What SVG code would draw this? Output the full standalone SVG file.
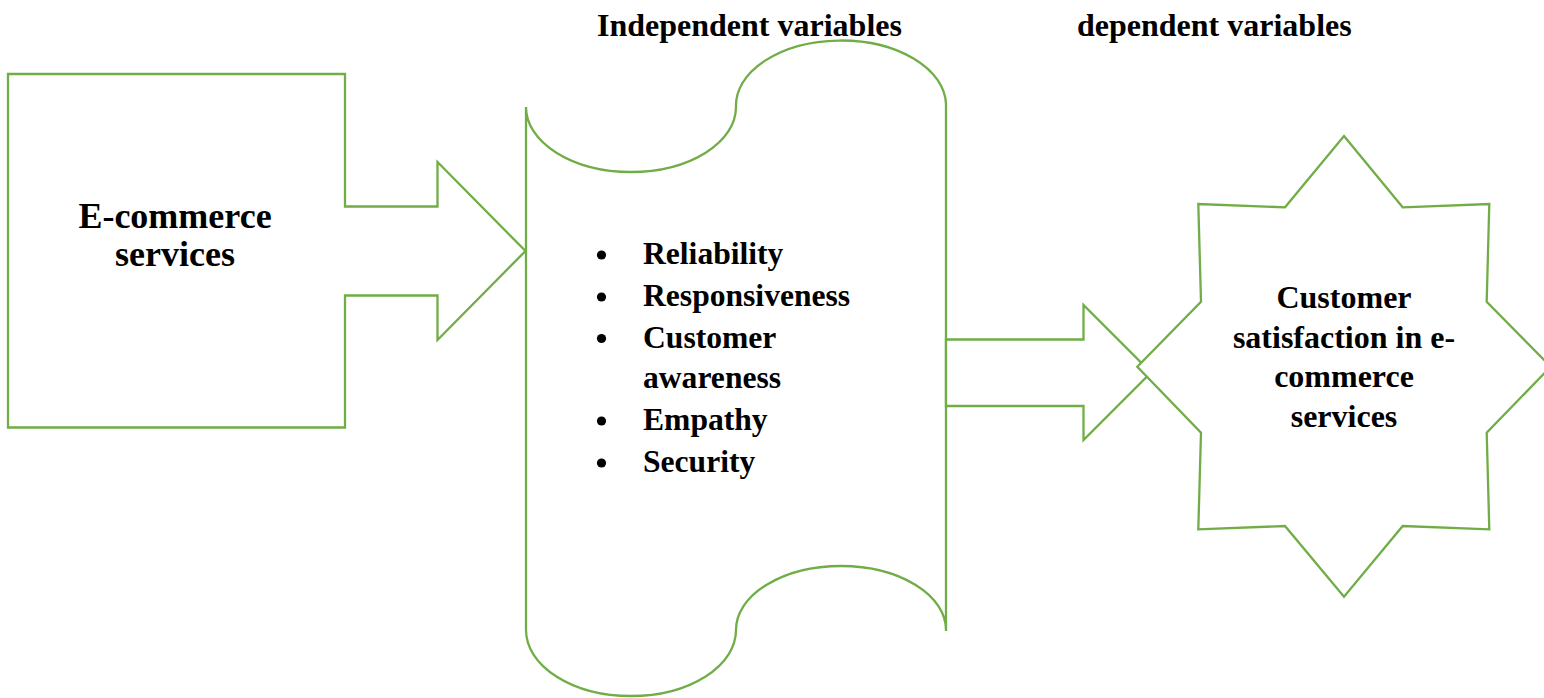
<svg xmlns="http://www.w3.org/2000/svg" width="1544" height="698" viewBox="0 0 1544 698">
<style>
.shape{fill:#ffffff;stroke:#70AD47;stroke-width:2.3;stroke-linejoin:miter}
.t{font-family:"Liberation Serif","Times New Roman",serif;font-weight:bold;fill:#000000}
.h{font-size:32px}
.big{font-size:36px}
.li{font-size:31.6px}
.st{font-size:32px}
</style>
<rect x="0" y="0" width="1544" height="698" fill="#ffffff"/>
<g id="headers">
<text class="t h" x="597" y="36">Independent variables</text>
<text class="t h" x="1077" y="36">dependent variables</text>
</g>
<g id="node-ecommerce">
<polygon class="shape" points="8,74 345,74 345,206.5 437.5,206.5 437.5,162 525.5,251 437.5,340 437.5,295.5 345,295.5 345,427.5 8,427.5"/>
<text class="t big" x="175" y="228" text-anchor="middle">E-commerce</text>
<text class="t big" x="175" y="266" text-anchor="middle">services</text>
</g>
<g id="node-independent">
<path class="shape" d="M526,107 A105,65 0 0 0 736,107 A105,65 0 0 1 946,104 L946,631 L946,630 A105,64 0 0 0 736,630 A105,66 0 0 1 526,630 Z"/>
<g class="t li">
<circle cx="601.5" cy="255" r="4.6"/>
<text x="643" y="264">Reliability</text>
<circle cx="601.5" cy="297" r="4.6"/>
<text x="643" y="306">Responsiveness</text>
<circle cx="601.5" cy="338.5" r="4.6"/>
<text x="643" y="347.5">Customer</text>
<text x="643" y="387.5">awareness</text>
<circle cx="601.5" cy="421" r="4.6"/>
<text x="643" y="430">Empathy</text>
<circle cx="601.5" cy="463" r="4.6"/>
<text x="643" y="472">Security</text>
</g>
</g>
<g id="connectors">
<polygon class="shape" points="946,339.5 1083.5,339.5 1083.5,305 1151,372.5 1083.5,440 1083.5,406 946,406"/>
</g>
<g id="node-dependent">
<polygon class="shape" points="1344,136 1402.7,207.3 1489.3,204 1486.7,301.7 1550.7,366.7 1486.7,432.7 1489.3,529.3 1402.7,526 1344,596.7 1285,526 1198.3,529.3 1201,432.7 1137.3,366.7 1201,301.7 1198.3,204 1285,207.3"/>
<text class="t st" x="1344" y="307.5" text-anchor="middle">Customer</text>
<text class="t st" x="1344" y="347.5" text-anchor="middle">satisfaction in e-</text>
<text class="t st" x="1344" y="387" text-anchor="middle">commerce</text>
<text class="t st" x="1344" y="427" text-anchor="middle">services</text>
</g>
</svg>
